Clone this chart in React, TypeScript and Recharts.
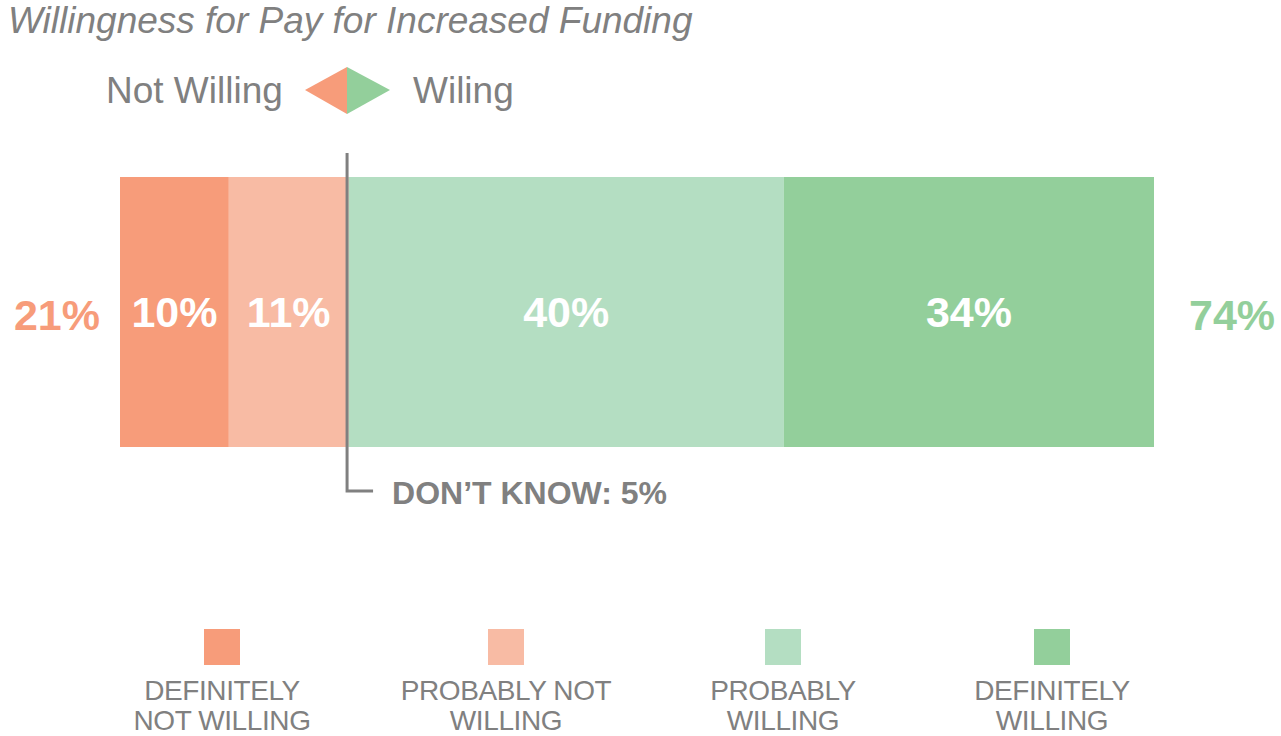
import { BarChart, Bar, XAxis, YAxis, LabelList } from 'recharts';

const categories = ['Willingness'];
const definitelyNot = [10];
const probablyNot = [11];
const probablyWilling = [40];
const definitelyWilling = [34];
const dontKnow = [5];

const seriesKeys = ['definitelyNot', 'probablyNot', 'probablyWilling', 'definitelyWilling'];
const seriesLabels = [
  ['DEFINITELY', 'NOT WILLING'],
  ['PROBABLY NOT', 'WILLING'],
  ['PROBABLY', 'WILLING'],
  ['DEFINITELY', 'WILLING'],
];
const seriesColors = ['#F79C7A', '#F8BBA4', '#B4DEC2', '#93CF9B'];
const legendCenters = [222, 506, 783, 1052];

const GRAY = '#808080';
const FONT = '"Liberation Sans", Arial, sans-serif';

const data = categories.map((c, i) => ({
  name: c,
  definitelyNot: definitelyNot[i],
  probablyNot: probablyNot[i],
  probablyWilling: probablyWilling[i],
  definitelyWilling: definitelyWilling[i],
}));

const notTotal = definitelyNot[0] + probablyNot[0];
const willTotal = probablyWilling[0] + definitelyWilling[0];

// eslint-disable-next-line @typescript-eslint/no-explicit-any
const NotTotalLabel = (p: any) => (
  <text x={p.x - 20} y={p.y + p.height / 2 + 3} textAnchor="end" dominantBaseline="central"
    fill="#F79C7A" fontSize={43} fontWeight="bold" fontFamily={FONT}>
    {notTotal}%
  </text>
);

// eslint-disable-next-line @typescript-eslint/no-explicit-any
const WillTotalLabel = (p: any) => (
  <text x={p.x + p.width + 35} y={p.y + p.height / 2 + 3} textAnchor="start" dominantBaseline="central"
    fill="#93CF9B" fontSize={43} fontWeight="bold" fontFamily={FONT}>
    {willTotal}%
  </text>
);

// don't know marker sits on the not-willing / willing boundary
// eslint-disable-next-line @typescript-eslint/no-explicit-any
const DontKnowMarker = (p: any) => {
  const lx = p.x + p.width - 1.5;
  const top = p.y - 24;
  const bottom = p.y + p.height + 44;
  return (
    <g>
      <path d={`M${lx},${top} L${lx},${bottom} L${lx + 26},${bottom}`} fill="none" stroke={GRAY} strokeWidth={3} />
      <text x={lx + 45} y={bottom + 2} dominantBaseline="central" fill={GRAY}
        fontSize={32} fontWeight="bold" fontFamily={FONT}>
        DON’T KNOW: {dontKnow[0]}%
      </text>
    </g>
  );
};

export default function App() {
  return (
    <div style={{ position: 'absolute', left: 0, top: 0, width: 1281, height: 736, fontFamily: FONT, background: '#fff' }}>
      <BarChart width={1281} height={736} data={data} layout="vertical"
        margin={{ top: 177, right: 127, bottom: 289, left: 120 }} barCategoryGap={0}>
        <XAxis type="number" domain={[0, 95]} hide />
        <YAxis type="category" dataKey="name" hide />
        {seriesKeys.map((k, i) => (
          <Bar key={k} dataKey={k} stackId="a" fill={seriesColors[i]} isAnimationActive={false}>
            <LabelList dataKey={k} position="center" fill="#fff" fontSize={43} fontWeight="bold"
              fontFamily={FONT} formatter={(v: unknown) => `${v}%`} />
            {i === 0 && <LabelList dataKey={k} content={NotTotalLabel} />}
            {i === 1 && <LabelList dataKey={k} content={DontKnowMarker} />}
            {i === 3 && <LabelList dataKey={k} content={WillTotalLabel} />}
          </Bar>
        ))}
      </BarChart>

      <svg width={1281} height={160} style={{ position: 'absolute', left: 0, top: 0 }}>
        <text x={8} y={20} dominantBaseline="central" fill={GRAY} fontSize={37} fontStyle="italic" fontFamily={FONT}>
          Willingness for Pay for Increased Funding
        </text>
        <text x={106} y={90} dominantBaseline="central" fill={GRAY} fontSize={37} fontFamily={FONT}>Not Willing</text>
        <polygon points="305,90 347,67 347,114" fill={seriesColors[0]} />
        <polygon points="347,67 390,90 347,114" fill={seriesColors[3]} />
        <text x={413} y={90} dominantBaseline="central" fill={GRAY} fontSize={37} fontFamily={FONT}>Wiling</text>
      </svg>

      {/* legend */}
      <svg width={1281} height={116} style={{ position: 'absolute', left: 0, top: 620 }}>
        {seriesKeys.map((k, i) => (
          <g key={k}>
            <rect x={legendCenters[i] - 18} y={9} width={36} height={36} fill={seriesColors[i]} />
            {seriesLabels[i].map((l, j) => (
              <text key={l} x={legendCenters[i]} y={70 + j * 30} textAnchor="middle" dominantBaseline="central"
                fill={GRAY} fontSize={28} letterSpacing={-0.4} fontFamily={FONT}>
                {l}
              </text>
            ))}
          </g>
        ))}
      </svg>
    </div>
  );
}
